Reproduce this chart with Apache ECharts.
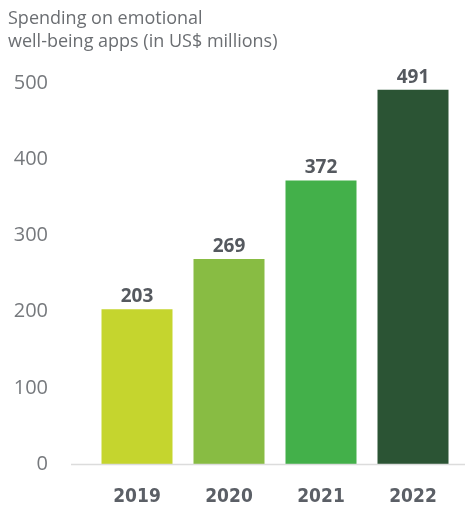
<!DOCTYPE html>
<html>
<head>
<meta charset="utf-8">
<script src="https://cdn.jsdelivr.net/npm/echarts@6/dist/echarts.min.js"></script>
<style>
  html, body { margin: 0; padding: 0; background: #fff; }
  #chart { width: 465px; height: 508px; }
</style>
</head>
<body>
<div id="chart"></div>
<script>
// chart data
const years = ['2019', '2020', '2021', '2022'];
const spending = [203, 269, 372, 491];
const barColors = ['#c5d52e', '#88bc43', '#43b04a', '#2b5434'];
const yTicks = [0, 100, 200, 300, 400, 500];

const chartDom = document.getElementById('chart');
const myChart = echarts.init(chartDom);

const option = {
  animation: false,
  title: {
    text: 'Spending on emotional\nwell-being apps (in US$ millions)',
    left: 3,
    top: 2,
    textStyle: {
      fontFamily: 'Open Sans',
      fontWeight: 'normal',
      fontSize: 18,
      lineHeight: 23,
      color: '#6b6e72'
    }
  },
  grid: { left: 91, right: 6, top: 83, bottom: 44 },
  xAxis: {
    type: 'category',
    data: years,
    axisLine: { show: false },
    axisTick: { show: false },
    axisLabel: {
      margin: 24,
      fontFamily: '"DejaVu Sans Condensed", "Liberation Sans Narrow", "Open Sans"',
      fontWeight: 'bold',
      fontSize: 19,
      color: '#5b5f66'
    }
  },
  yAxis: {
    type: 'value',
    min: yTicks[0],
    max: yTicks[yTicks.length - 1],
    interval: 100,
    splitLine: { show: false },
    axisLine: { show: false },
    axisTick: { show: false },
    axisLabel: {
      margin: 43,
      fontFamily: 'Open Sans',
      fontSize: 20,
      color: '#76797d'
    }
  },
  series: [
    {
      type: 'bar',
      barWidth: 71,
      data: spending.map((v, i) => ({ value: v, itemStyle: { color: barColors[i] } })),
      label: {
        show: true,
        position: 'top',
        distance: 3,
        fontFamily: 'Open Sans',
        fontWeight: 'bold',
        fontSize: 19,
        color: '#55595f'
      }
    }
  ]
};

myChart.setOption(option);

// baseline under the bars, reaching further left than the plot area
const zeroY = myChart.convertToPixel({ yAxisIndex: 0 }, 0);
myChart.setOption({
  graphic: [{
    type: 'line',
    shape: { x1: 71, y1: zeroY + 0.5, x2: 465, y2: zeroY + 0.5 },
    style: { stroke: '#dcdcdc', lineWidth: 1.5 },
    z: 10
  }]
});
</script>
</body>
</html>
